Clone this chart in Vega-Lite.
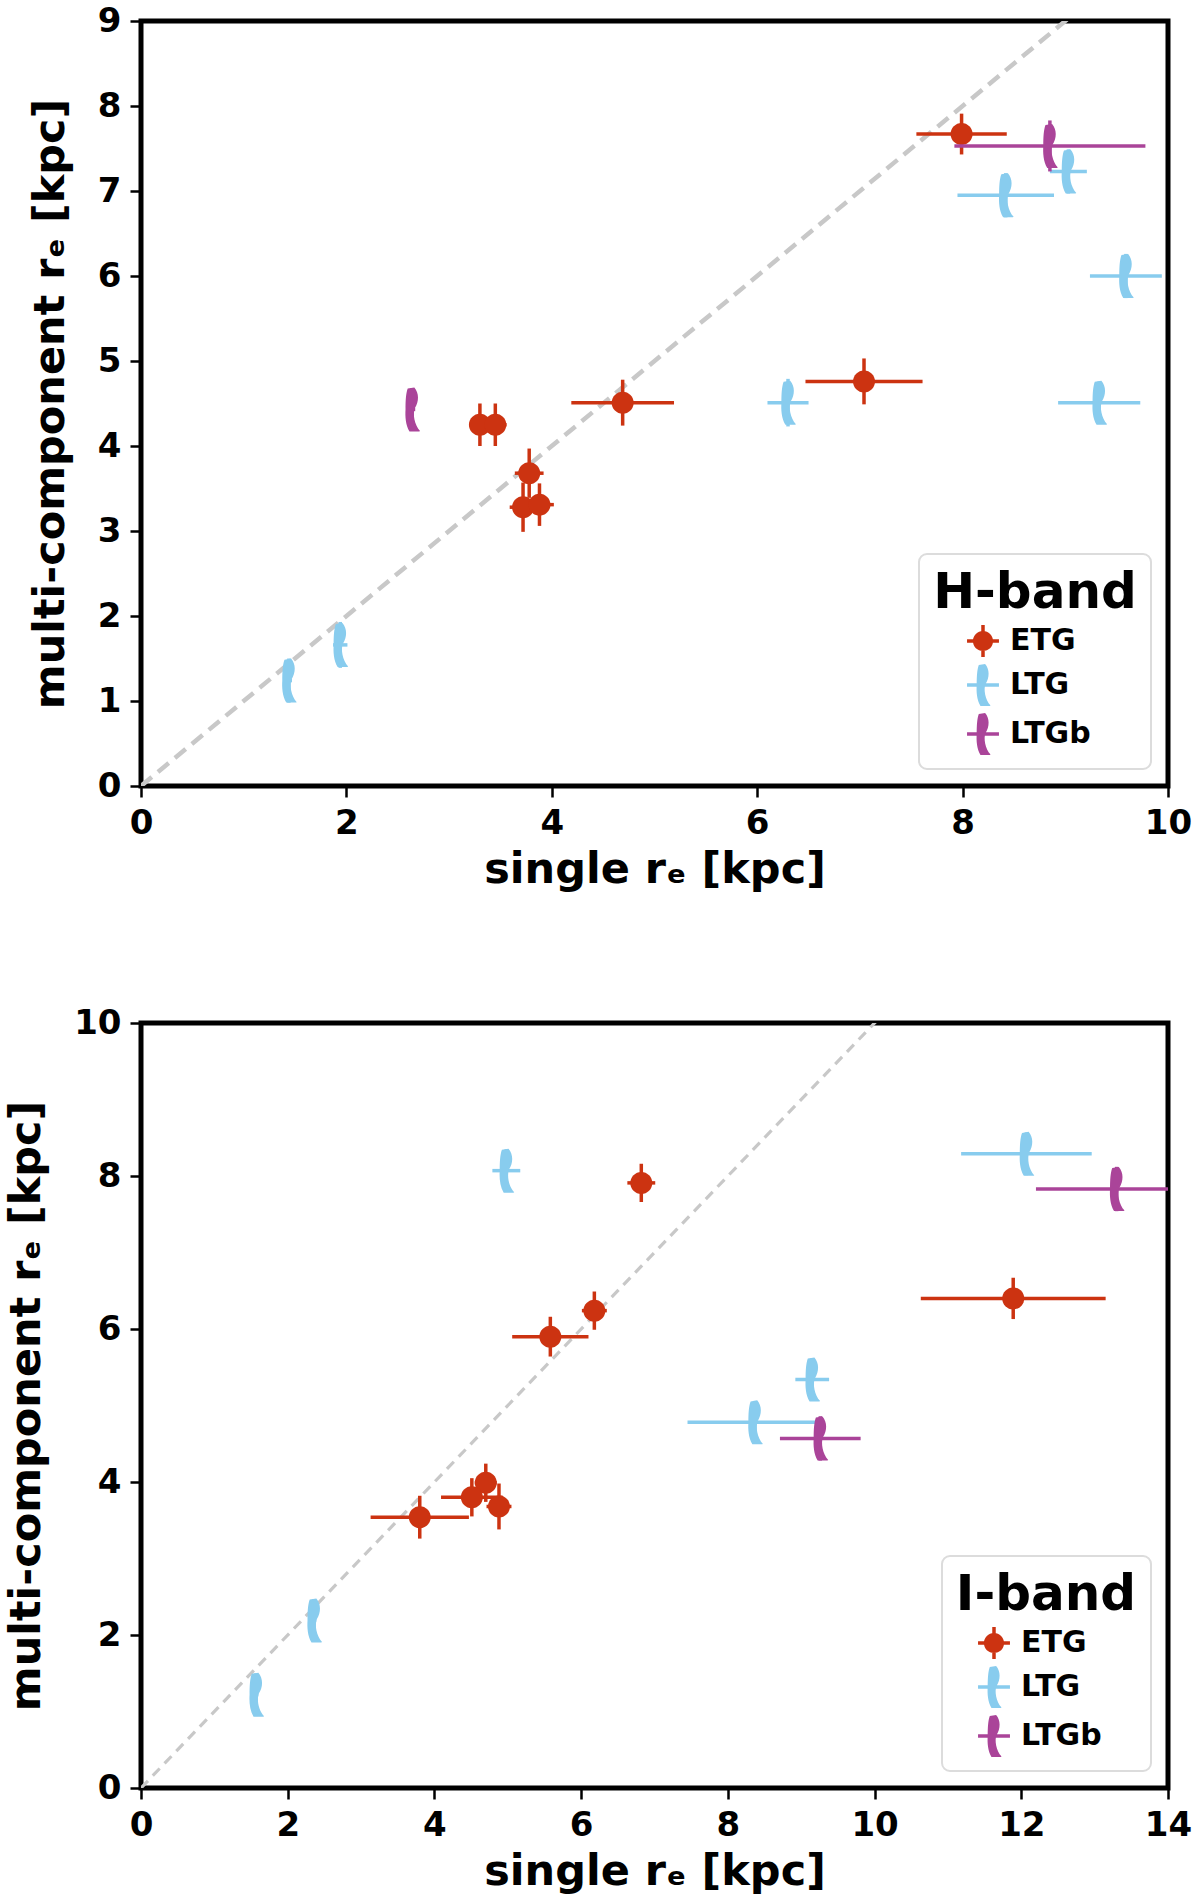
{
  "$schema": "https://vega.github.io/schema/vega-lite/v6.json",
  "description": "single vs multi-component effective radius, H-band and I-band",
  "padding": {"left": 3, "top": 1, "right": 0, "bottom": 0},
  "config": {
    "font": "DejaVu Sans",
    "view": {"stroke": "black", "strokeWidth": 5},
    "axis": {
      "domain": false, "grid": false, "tickColor": "black", "tickWidth": 2.5, "tickSize": 11,
      "labelFont": "DejaVu Sans", "labelFontSize": 34, "labelFontWeight": "bold", "labelColor": "black",
      "labelPadding": 9, "labelFlush": false, "labelOverlap": false, "format": "d",
      "titleFont": "DejaVu Sans", "titleFontSize": 43, "titleFontWeight": "bold", "titleColor": "black"
    },
    "axisX": {"titlePadding": 8},
    "axisY": {"titlePadding": 25},
    "legend": {
      "orient": "bottom-right", "offset": 17, "padding": 14, "fillColor": "white", "strokeColor": "#dcdcdc",
      "strokeWidth": 2, "cornerRadius": 8, "titleFont": "DejaVu Sans", "titleFontSize": 50, "titleFontWeight": "bold",
      "titleColor": "black", "titleAnchor": "middle", "titlePadding": 2, "titleLimit": 500,
      "labelFont": "DejaVu Sans", "labelFontSize": 30, "labelFontWeight": "bold", "labelColor": "black",
      "symbolSize": 1764, "symbolOffset": -18, "labelOffset": 6, "rowPadding": 7,
      "symbolOpacity": 1, "symbolStrokeWidth": 0
    }
  },
  "datasets": {
    "h": [
      {"type": "ETG", "x": 7.99, "y": 7.67, "xlo": 7.55, "xhi": 8.43, "ylo": 7.43, "yhi": 7.91},
      {"type": "ETG", "x": 3.30, "y": 4.25, "xlo": 3.20, "xhi": 3.40, "ylo": 4.00, "yhi": 4.50},
      {"type": "ETG", "x": 3.45, "y": 4.25, "xlo": 3.34, "xhi": 3.56, "ylo": 4.00, "yhi": 4.50},
      {"type": "ETG", "x": 4.69, "y": 4.51, "xlo": 4.19, "xhi": 5.19, "ylo": 4.24, "yhi": 4.78},
      {"type": "ETG", "x": 7.04, "y": 4.76, "xlo": 6.47, "xhi": 7.61, "ylo": 4.49, "yhi": 5.03},
      {"type": "ETG", "x": 3.78, "y": 3.68, "xlo": 3.64, "xhi": 3.92, "ylo": 3.39, "yhi": 3.97},
      {"type": "ETG", "x": 3.72, "y": 3.28, "xlo": 3.59, "xhi": 3.85, "ylo": 2.99, "yhi": 3.57},
      {"type": "ETG", "x": 3.88, "y": 3.31, "xlo": 3.74, "xhi": 4.02, "ylo": 3.06, "yhi": 3.56},
      {"type": "LTG", "x": 8.42, "y": 6.95, "xlo": 7.95, "xhi": 8.89, "ylo": 6.69, "yhi": 7.21},
      {"type": "LTG", "x": 9.03, "y": 7.23, "xlo": 8.85, "xhi": 9.21, "ylo": 6.97, "yhi": 7.49},
      {"type": "LTG", "x": 9.59, "y": 6.00, "xlo": 9.24, "xhi": 9.94, "ylo": 5.74, "yhi": 6.26},
      {"type": "LTG", "x": 9.33, "y": 4.51, "xlo": 8.93, "xhi": 9.73, "ylo": 4.26, "yhi": 4.76},
      {"type": "LTG", "x": 6.30, "y": 4.51, "xlo": 6.10, "xhi": 6.50, "ylo": 4.23, "yhi": 4.79},
      {"type": "LTG", "x": 1.94, "y": 1.66, "xlo": 1.87, "xhi": 2.01, "ylo": 1.39, "yhi": 1.93},
      {"type": "LTG", "x": 1.44, "y": 1.24, "xlo": 1.41, "xhi": 1.47, "ylo": 0.98, "yhi": 1.50},
      {"type": "LTGb", "x": 8.85, "y": 7.53, "xlo": 7.92, "xhi": 9.78, "ylo": 7.23, "yhi": 7.83},
      {"type": "LTGb", "x": 2.64, "y": 4.43, "xlo": 2.61, "xhi": 2.67, "ylo": 4.18, "yhi": 4.68}
    ],
    "i": [
      {"type": "ETG", "x": 6.82, "y": 7.91, "xlo": 6.63, "xhi": 7.01, "ylo": 7.66, "yhi": 8.16},
      {"type": "ETG", "x": 6.18, "y": 6.24, "xlo": 6.01, "xhi": 6.35, "ylo": 5.99, "yhi": 6.49},
      {"type": "ETG", "x": 5.58, "y": 5.90, "xlo": 5.06, "xhi": 6.10, "ylo": 5.64, "yhi": 6.16},
      {"type": "ETG", "x": 11.89, "y": 6.40, "xlo": 10.63, "xhi": 13.15, "ylo": 6.13, "yhi": 6.67},
      {"type": "ETG", "x": 4.70, "y": 3.99, "xlo": 4.55, "xhi": 4.85, "ylo": 3.74, "yhi": 4.24},
      {"type": "ETG", "x": 4.51, "y": 3.80, "xlo": 4.09, "xhi": 4.93, "ylo": 3.55, "yhi": 4.05},
      {"type": "ETG", "x": 4.88, "y": 3.68, "xlo": 4.71, "xhi": 5.05, "ylo": 3.38, "yhi": 3.98},
      {"type": "ETG", "x": 3.80, "y": 3.54, "xlo": 3.13, "xhi": 4.47, "ylo": 3.26, "yhi": 3.82},
      {"type": "LTG", "x": 4.98, "y": 8.07, "xlo": 4.79, "xhi": 5.17, "ylo": 7.79, "yhi": 8.35},
      {"type": "LTG", "x": 12.07, "y": 8.29, "xlo": 11.18, "xhi": 12.96, "ylo": 8.01, "yhi": 8.57},
      {"type": "LTG", "x": 9.15, "y": 5.34, "xlo": 8.92, "xhi": 9.38, "ylo": 5.06, "yhi": 5.62},
      {"type": "LTG", "x": 8.37, "y": 4.78, "xlo": 7.45, "xhi": 9.29, "ylo": 4.50, "yhi": 5.06},
      {"type": "LTG", "x": 2.36, "y": 2.19, "xlo": 2.33, "xhi": 2.39, "ylo": 1.91, "yhi": 2.47},
      {"type": "LTG", "x": 1.57, "y": 1.22, "xlo": 1.54, "xhi": 1.60, "ylo": 0.94, "yhi": 1.50},
      {"type": "LTGb", "x": 13.30, "y": 7.83, "xlo": 12.20, "xhi": 14.40, "ylo": 7.54, "yhi": 8.12},
      {"type": "LTGb", "x": 9.26, "y": 4.57, "xlo": 8.71, "xhi": 9.81, "ylo": 4.28, "yhi": 4.86}
    ]
  },
  "resolve": {
    "scale": {"x": "independent", "y": "independent", "color": "independent", "shape": "independent"},
    "axis": {"x": "independent", "y": "independent"},
    "legend": {"color": "independent", "shape": "independent"}
  },
  "spacing": 109,
  "vconcat": [
    {
      "width": 1027,
      "height": 765,
      "layer": [
        {
          "data": {"values": [{"x": 0, "y": 0}, {"x": 10, "y": 10}]},
          "mark": {"type": "line", "color": "#c8c8c8", "strokeWidth": 4.5, "strokeDash": [14, 8], "clip": true},
          "encoding": {
            "x": {"field": "x", "type": "quantitative", "title": "single rₑ [kpc]", "scale": {"domain": [0, 10], "nice": false, "zero": false}, "axis": {"values": [0, 2, 4, 6, 8, 10]}},
            "y": {"field": "y", "type": "quantitative", "title": "multi-component rₑ [kpc]", "scale": {"domain": [0, 9], "nice": false, "zero": false}, "axis": {"values": [0, 1, 2, 3, 4, 5, 6, 7, 8, 9]}}
          }
        },
        {
          "data": {"name": "h"},
          "mark": {"type": "point", "filled": true, "opacity": 0, "clip": true},
          "encoding": {
            "x": {"field": "x", "type": "quantitative", "title": "single rₑ [kpc]", "scale": {"domain": [0, 10], "nice": false, "zero": false}},
            "y": {"field": "y", "type": "quantitative", "title": "multi-component rₑ [kpc]", "scale": {"domain": [0, 9], "nice": false, "zero": false}},
            "shape": {"field": "type", "type": "nominal", "legend": {"title": "H-band", "symbolSize": 1764, "symbolOpacity": 1}, "scale": {"domain": ["ETG", "LTG", "LTGb"], "range": [
              "M-0.48,0 C-0.48,-0.265 -0.265,-0.48 0,-0.48 C0.265,-0.48 0.48,-0.265 0.48,0 C0.48,0.265 0.265,0.48 0,0.48 C-0.265,0.48 -0.48,0.265 -0.48,0 Z M-0.76,-0.083 H0.76 V0.083 H-0.76 Z M-0.083,-0.76 H0.083 V0.76 H-0.083 Z",
              "M-0.2,-0.95 L0.1,-1 C0.32,-0.75 0.32,-0.35 0.12,-0.05 C0.02,0.2 0.1,0.7 0.36,0.98 L0.32,1 L-0.12,1 C-0.3,0.7 -0.32,0.3 -0.3,0 C-0.3,-0.4 -0.28,-0.75 -0.2,-0.95 Z M-0.76,-0.083 H0.76 V0.083 H-0.76 Z",
              "M-0.2,-0.95 L0.1,-1 C0.32,-0.75 0.32,-0.35 0.12,-0.05 C0.02,0.2 0.1,0.7 0.36,0.98 L0.32,1 L-0.12,1 C-0.3,0.7 -0.32,0.3 -0.3,0 C-0.3,-0.4 -0.28,-0.75 -0.2,-0.95 Z M-0.76,-0.083 H0.76 V0.083 H-0.76 Z"
            ]}},
            "color": {"field": "type", "type": "nominal", "legend": {"title": "H-band", "symbolSize": 1764, "symbolOpacity": 1}, "scale": {"domain": ["ETG", "LTG", "LTGb"], "range": ["#cc3311", "#88ccee", "#aa4499"]}}
          }
        },
        {
          "data": {"name": "h"}, "transform": [{"filter": "datum.type === 'ETG'"}],
          "mark": {"type": "rule", "strokeWidth": 3.5, "clip": true, "color": "#cc3311"},
          "encoding": {
            "x": {"field": "xlo", "type": "quantitative", "title": "single rₑ [kpc]", "scale": {"domain": [0, 10], "nice": false, "zero": false}},
            "x2": {"field": "xhi"},
            "y": {"field": "y", "type": "quantitative", "title": "multi-component rₑ [kpc]", "scale": {"domain": [0, 9], "nice": false, "zero": false}}
          }
        },
        {
          "data": {"name": "h"}, "transform": [{"filter": "datum.type === 'ETG'"}],
          "mark": {"type": "rule", "strokeWidth": 3.5, "clip": true, "color": "#cc3311"},
          "encoding": {
            "x": {"field": "x", "type": "quantitative", "title": "single rₑ [kpc]", "scale": {"domain": [0, 10], "nice": false, "zero": false}},
            "y": {"field": "ylo", "type": "quantitative", "title": "multi-component rₑ [kpc]", "scale": {"domain": [0, 9], "nice": false, "zero": false}},
            "y2": {"field": "yhi"}
          }
        },
        {
          "data": {"name": "h"}, "transform": [{"filter": "datum.type === 'ETG'"}],
          "mark": {"type": "point", "filled": true, "opacity": 1, "size": 1936, "clip": true, "color": "#cc3311",
                   "shape": "M-0.5,0 C-0.5,-0.276 -0.276,-0.5 0,-0.5 C0.276,-0.5 0.5,-0.276 0.5,0 C0.5,0.276 0.276,0.5 0,0.5 C-0.276,0.5 -0.5,0.276 -0.5,0 Z"},
          "encoding": {
            "x": {"field": "x", "type": "quantitative", "title": "single rₑ [kpc]", "scale": {"domain": [0, 10], "nice": false, "zero": false}},
            "y": {"field": "y", "type": "quantitative", "title": "multi-component rₑ [kpc]", "scale": {"domain": [0, 9], "nice": false, "zero": false}}
          }
        },
        {
          "data": {"name": "h"}, "transform": [{"filter": "datum.type === 'LTG'"}],
          "mark": {"type": "rule", "strokeWidth": 3.5, "clip": true, "color": "#88ccee"},
          "encoding": {
            "x": {"field": "xlo", "type": "quantitative", "title": "single rₑ [kpc]", "scale": {"domain": [0, 10], "nice": false, "zero": false}},
            "x2": {"field": "xhi"},
            "y": {"field": "y", "type": "quantitative", "title": "multi-component rₑ [kpc]", "scale": {"domain": [0, 9], "nice": false, "zero": false}}
          }
        },
        {
          "data": {"name": "h"}, "transform": [{"filter": "datum.type === 'LTG'"}],
          "mark": {"type": "rule", "strokeWidth": 3.5, "clip": true, "color": "#88ccee"},
          "encoding": {
            "x": {"field": "x", "type": "quantitative", "title": "single rₑ [kpc]", "scale": {"domain": [0, 10], "nice": false, "zero": false}},
            "y": {"field": "ylo", "type": "quantitative", "title": "multi-component rₑ [kpc]", "scale": {"domain": [0, 9], "nice": false, "zero": false}},
            "y2": {"field": "yhi"}
          }
        },
        {
          "data": {"name": "h"}, "transform": [{"filter": "datum.type === 'LTG'"}],
          "mark": {"type": "point", "filled": true, "opacity": 1, "size": 1936, "clip": true, "color": "#88ccee",
                   "shape": "M-0.2,-0.95 L0.1,-1 C0.32,-0.75 0.32,-0.35 0.12,-0.05 C0.02,0.2 0.1,0.7 0.36,0.98 L0.32,1 L-0.12,1 C-0.3,0.7 -0.32,0.3 -0.3,0 C-0.3,-0.4 -0.28,-0.75 -0.2,-0.95 Z"},
          "encoding": {
            "x": {"field": "x", "type": "quantitative", "title": "single rₑ [kpc]", "scale": {"domain": [0, 10], "nice": false, "zero": false}},
            "y": {"field": "y", "type": "quantitative", "title": "multi-component rₑ [kpc]", "scale": {"domain": [0, 9], "nice": false, "zero": false}}
          }
        },
        {
          "data": {"name": "h"}, "transform": [{"filter": "datum.type === 'LTGb'"}],
          "mark": {"type": "rule", "strokeWidth": 3.5, "clip": true, "color": "#aa4499"},
          "encoding": {
            "x": {"field": "xlo", "type": "quantitative", "title": "single rₑ [kpc]", "scale": {"domain": [0, 10], "nice": false, "zero": false}},
            "x2": {"field": "xhi"},
            "y": {"field": "y", "type": "quantitative", "title": "multi-component rₑ [kpc]", "scale": {"domain": [0, 9], "nice": false, "zero": false}}
          }
        },
        {
          "data": {"name": "h"}, "transform": [{"filter": "datum.type === 'LTGb'"}],
          "mark": {"type": "rule", "strokeWidth": 3.5, "clip": true, "color": "#aa4499"},
          "encoding": {
            "x": {"field": "x", "type": "quantitative", "title": "single rₑ [kpc]", "scale": {"domain": [0, 10], "nice": false, "zero": false}},
            "y": {"field": "ylo", "type": "quantitative", "title": "multi-component rₑ [kpc]", "scale": {"domain": [0, 9], "nice": false, "zero": false}},
            "y2": {"field": "yhi"}
          }
        },
        {
          "data": {"name": "h"}, "transform": [{"filter": "datum.type === 'LTGb'"}],
          "mark": {"type": "point", "filled": true, "opacity": 1, "size": 1936, "clip": true, "color": "#aa4499",
                   "shape": "M-0.2,-0.95 L0.1,-1 C0.32,-0.75 0.32,-0.35 0.12,-0.05 C0.02,0.2 0.1,0.7 0.36,0.98 L0.32,1 L-0.12,1 C-0.3,0.7 -0.32,0.3 -0.3,0 C-0.3,-0.4 -0.28,-0.75 -0.2,-0.95 Z"},
          "encoding": {
            "x": {"field": "x", "type": "quantitative", "title": "single rₑ [kpc]", "scale": {"domain": [0, 10], "nice": false, "zero": false}},
            "y": {"field": "y", "type": "quantitative", "title": "multi-component rₑ [kpc]", "scale": {"domain": [0, 9], "nice": false, "zero": false}}
          }
        }
      ]
    },
    {
      "width": 1027,
      "height": 765,
      "layer": [
        {
          "data": {"values": [{"x": 0, "y": 0}, {"x": 14, "y": 14}]},
          "mark": {"type": "line", "color": "#c8c8c8", "strokeWidth": 3.2, "strokeDash": [10, 7], "clip": true},
          "encoding": {
            "x": {"field": "x", "type": "quantitative", "title": "single rₑ [kpc]", "scale": {"domain": [0, 14], "nice": false, "zero": false}, "axis": {"values": [0, 2, 4, 6, 8, 10, 12, 14]}},
            "y": {"field": "y", "type": "quantitative", "title": "multi-component rₑ [kpc]", "scale": {"domain": [0, 10], "nice": false, "zero": false}, "axis": {"values": [0, 2, 4, 6, 8, 10]}}
          }
        },
        {
          "data": {"name": "i"},
          "mark": {"type": "point", "filled": true, "opacity": 0, "clip": true},
          "encoding": {
            "x": {"field": "x", "type": "quantitative", "title": "single rₑ [kpc]", "scale": {"domain": [0, 14], "nice": false, "zero": false}},
            "y": {"field": "y", "type": "quantitative", "title": "multi-component rₑ [kpc]", "scale": {"domain": [0, 10], "nice": false, "zero": false}},
            "shape": {"field": "type", "type": "nominal", "legend": {"title": "I-band", "symbolSize": 1764, "symbolOpacity": 1}, "scale": {"domain": ["ETG", "LTG", "LTGb"], "range": [
              "M-0.48,0 C-0.48,-0.265 -0.265,-0.48 0,-0.48 C0.265,-0.48 0.48,-0.265 0.48,0 C0.48,0.265 0.265,0.48 0,0.48 C-0.265,0.48 -0.48,0.265 -0.48,0 Z M-0.76,-0.083 H0.76 V0.083 H-0.76 Z M-0.083,-0.76 H0.083 V0.76 H-0.083 Z",
              "M-0.2,-0.95 L0.1,-1 C0.32,-0.75 0.32,-0.35 0.12,-0.05 C0.02,0.2 0.1,0.7 0.36,0.98 L0.32,1 L-0.12,1 C-0.3,0.7 -0.32,0.3 -0.3,0 C-0.3,-0.4 -0.28,-0.75 -0.2,-0.95 Z M-0.76,-0.083 H0.76 V0.083 H-0.76 Z",
              "M-0.2,-0.95 L0.1,-1 C0.32,-0.75 0.32,-0.35 0.12,-0.05 C0.02,0.2 0.1,0.7 0.36,0.98 L0.32,1 L-0.12,1 C-0.3,0.7 -0.32,0.3 -0.3,0 C-0.3,-0.4 -0.28,-0.75 -0.2,-0.95 Z M-0.76,-0.083 H0.76 V0.083 H-0.76 Z"
            ]}},
            "color": {"field": "type", "type": "nominal", "legend": {"title": "I-band", "symbolSize": 1764, "symbolOpacity": 1}, "scale": {"domain": ["ETG", "LTG", "LTGb"], "range": ["#cc3311", "#88ccee", "#aa4499"]}}
          }
        },
        {
          "data": {"name": "i"}, "transform": [{"filter": "datum.type === 'ETG'"}],
          "mark": {"type": "rule", "strokeWidth": 3.5, "clip": true, "color": "#cc3311"},
          "encoding": {
            "x": {"field": "xlo", "type": "quantitative", "title": "single rₑ [kpc]", "scale": {"domain": [0, 14], "nice": false, "zero": false}},
            "x2": {"field": "xhi"},
            "y": {"field": "y", "type": "quantitative", "title": "multi-component rₑ [kpc]", "scale": {"domain": [0, 10], "nice": false, "zero": false}}
          }
        },
        {
          "data": {"name": "i"}, "transform": [{"filter": "datum.type === 'ETG'"}],
          "mark": {"type": "rule", "strokeWidth": 3.5, "clip": true, "color": "#cc3311"},
          "encoding": {
            "x": {"field": "x", "type": "quantitative", "title": "single rₑ [kpc]", "scale": {"domain": [0, 14], "nice": false, "zero": false}},
            "y": {"field": "ylo", "type": "quantitative", "title": "multi-component rₑ [kpc]", "scale": {"domain": [0, 10], "nice": false, "zero": false}},
            "y2": {"field": "yhi"}
          }
        },
        {
          "data": {"name": "i"}, "transform": [{"filter": "datum.type === 'ETG'"}],
          "mark": {"type": "point", "filled": true, "opacity": 1, "size": 1936, "clip": true, "color": "#cc3311",
                   "shape": "M-0.5,0 C-0.5,-0.276 -0.276,-0.5 0,-0.5 C0.276,-0.5 0.5,-0.276 0.5,0 C0.5,0.276 0.276,0.5 0,0.5 C-0.276,0.5 -0.5,0.276 -0.5,0 Z"},
          "encoding": {
            "x": {"field": "x", "type": "quantitative", "title": "single rₑ [kpc]", "scale": {"domain": [0, 14], "nice": false, "zero": false}},
            "y": {"field": "y", "type": "quantitative", "title": "multi-component rₑ [kpc]", "scale": {"domain": [0, 10], "nice": false, "zero": false}}
          }
        },
        {
          "data": {"name": "i"}, "transform": [{"filter": "datum.type === 'LTG'"}],
          "mark": {"type": "rule", "strokeWidth": 3.5, "clip": true, "color": "#88ccee"},
          "encoding": {
            "x": {"field": "xlo", "type": "quantitative", "title": "single rₑ [kpc]", "scale": {"domain": [0, 14], "nice": false, "zero": false}},
            "x2": {"field": "xhi"},
            "y": {"field": "y", "type": "quantitative", "title": "multi-component rₑ [kpc]", "scale": {"domain": [0, 10], "nice": false, "zero": false}}
          }
        },
        {
          "data": {"name": "i"}, "transform": [{"filter": "datum.type === 'LTG'"}],
          "mark": {"type": "rule", "strokeWidth": 3.5, "clip": true, "color": "#88ccee"},
          "encoding": {
            "x": {"field": "x", "type": "quantitative", "title": "single rₑ [kpc]", "scale": {"domain": [0, 14], "nice": false, "zero": false}},
            "y": {"field": "ylo", "type": "quantitative", "title": "multi-component rₑ [kpc]", "scale": {"domain": [0, 10], "nice": false, "zero": false}},
            "y2": {"field": "yhi"}
          }
        },
        {
          "data": {"name": "i"}, "transform": [{"filter": "datum.type === 'LTG'"}],
          "mark": {"type": "point", "filled": true, "opacity": 1, "size": 1936, "clip": true, "color": "#88ccee",
                   "shape": "M-0.2,-0.95 L0.1,-1 C0.32,-0.75 0.32,-0.35 0.12,-0.05 C0.02,0.2 0.1,0.7 0.36,0.98 L0.32,1 L-0.12,1 C-0.3,0.7 -0.32,0.3 -0.3,0 C-0.3,-0.4 -0.28,-0.75 -0.2,-0.95 Z"},
          "encoding": {
            "x": {"field": "x", "type": "quantitative", "title": "single rₑ [kpc]", "scale": {"domain": [0, 14], "nice": false, "zero": false}},
            "y": {"field": "y", "type": "quantitative", "title": "multi-component rₑ [kpc]", "scale": {"domain": [0, 10], "nice": false, "zero": false}}
          }
        },
        {
          "data": {"name": "i"}, "transform": [{"filter": "datum.type === 'LTGb'"}],
          "mark": {"type": "rule", "strokeWidth": 3.5, "clip": true, "color": "#aa4499"},
          "encoding": {
            "x": {"field": "xlo", "type": "quantitative", "title": "single rₑ [kpc]", "scale": {"domain": [0, 14], "nice": false, "zero": false}},
            "x2": {"field": "xhi"},
            "y": {"field": "y", "type": "quantitative", "title": "multi-component rₑ [kpc]", "scale": {"domain": [0, 10], "nice": false, "zero": false}}
          }
        },
        {
          "data": {"name": "i"}, "transform": [{"filter": "datum.type === 'LTGb'"}],
          "mark": {"type": "rule", "strokeWidth": 3.5, "clip": true, "color": "#aa4499"},
          "encoding": {
            "x": {"field": "x", "type": "quantitative", "title": "single rₑ [kpc]", "scale": {"domain": [0, 14], "nice": false, "zero": false}},
            "y": {"field": "ylo", "type": "quantitative", "title": "multi-component rₑ [kpc]", "scale": {"domain": [0, 10], "nice": false, "zero": false}},
            "y2": {"field": "yhi"}
          }
        },
        {
          "data": {"name": "i"}, "transform": [{"filter": "datum.type === 'LTGb'"}],
          "mark": {"type": "point", "filled": true, "opacity": 1, "size": 1936, "clip": true, "color": "#aa4499",
                   "shape": "M-0.2,-0.95 L0.1,-1 C0.32,-0.75 0.32,-0.35 0.12,-0.05 C0.02,0.2 0.1,0.7 0.36,0.98 L0.32,1 L-0.12,1 C-0.3,0.7 -0.32,0.3 -0.3,0 C-0.3,-0.4 -0.28,-0.75 -0.2,-0.95 Z"},
          "encoding": {
            "x": {"field": "x", "type": "quantitative", "title": "single rₑ [kpc]", "scale": {"domain": [0, 14], "nice": false, "zero": false}},
            "y": {"field": "y", "type": "quantitative", "title": "multi-component rₑ [kpc]", "scale": {"domain": [0, 10], "nice": false, "zero": false}}
          }
        }
      ]
    }
  ]
}
